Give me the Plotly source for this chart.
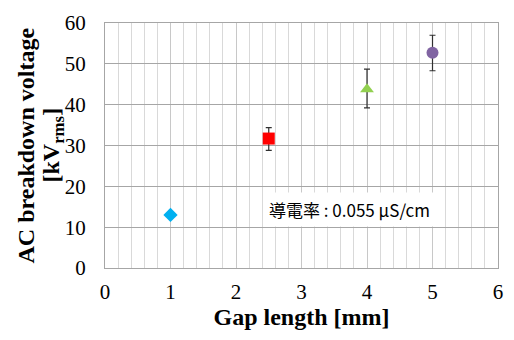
import plotly.graph_objects as go

gap = [1.0, 2.5, 4.0, 5.0]
voltage = [13.0, 31.7, 43.8, 52.7]
err_plus = [0.0, 2.7, 4.9, 4.3]
err_minus = [0.0, 2.9, 4.6, 4.4]
symbols = ["diamond", "square", "triangle-up", "circle"]
colors = ["#00b0f0", "#ff0000", "#92d050", "#8064a2"]
x_ticks = [0, 1, 2, 3, 4, 5, 6]
y_ticks = [0, 10, 20, 30, 40, 50, 60]
note = "導電率 : 0.055 µS/cm"

SERIF = "Liberation Serif"

fig = go.Figure()
for i in range(len(gap)):
    has_err = err_plus[i] > 0
    fig.add_trace(go.Scatter(
        x=[gap[i]], y=[voltage[i]], mode="markers",
        marker=dict(symbol=symbols[i], color=colors[i], size=12 if i != 0 else 11,
                    line=dict(width=0)),
        error_y=dict(type="data", symmetric=False, array=[err_plus[i]],
                     arrayminus=[err_minus[i]], visible=has_err,
                     color="#303030", thickness=1.2, width=3),
        showlegend=False,
    ))

fig.add_annotation(x=3.73, y=14.3, xref="x", yref="y", text=note, showarrow=False,
                   font=dict(family="Noto Sans CJK JP", size=17, color="black"),
                   bgcolor="white", borderpad=4)

fig.add_annotation(xref="paper", yref="paper", x=0, y=0.5, xanchor="center", yanchor="middle",
                   xshift=-80, textangle=-90, showarrow=False,
                   text="<b>AC breakdown voltage</b>",
                   font=dict(family=SERIF, size=24, color="black"))
fig.add_annotation(xref="paper", yref="paper", x=0, y=0.5, xanchor="center", yanchor="middle",
                   xshift=-53, textangle=-90, showarrow=False,
                   text="<b>[kV<sub>rms</sub>]</b>",
                   font=dict(family=SERIF, size=24, color="black"))

fig.update_layout(
    width=514, height=340,
    margin=dict(l=105, r=11, t=14, b=72),
    paper_bgcolor="white", plot_bgcolor="white",
    font=dict(family=SERIF, color="black", size=20),
    xaxis=dict(range=[0, 6], tickmode="array", tickvals=x_ticks,
               ticktext=[str(v) for v in x_ticks], ticks="", showline=True, linecolor="#a6a6a6",
               mirror=True, showgrid=True, gridcolor="#c8c8c8", gridwidth=1,
               minor=dict(dtick=0.2, showgrid=True, gridcolor="#d9d9d9", gridwidth=1),
               tickfont=dict(family=SERIF, size=21, color="black"),
               ticklabelstandoff=5,
               title=dict(text="<b>Gap length [mm]</b>", standoff=3,
                          font=dict(family=SERIF, size=24, color="black")),
               zeroline=False),
    yaxis=dict(range=[0, 60], tickmode="array", tickvals=y_ticks,
               ticktext=[str(v) for v in y_ticks], ticks="", showline=True, linecolor="#a6a6a6",
               mirror=True, showgrid=True, gridcolor="#a6a6a6", gridwidth=1,
               tickfont=dict(family=SERIF, size=21, color="black"),
               ticklabelstandoff=14, zeroline=False),
)

fig.write_html("out.html")
